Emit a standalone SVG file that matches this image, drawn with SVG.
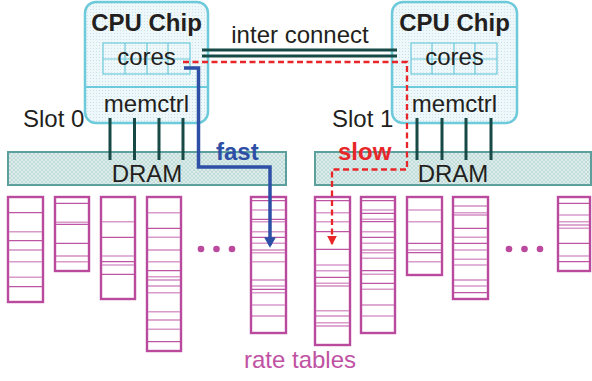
<svg xmlns="http://www.w3.org/2000/svg" width="592" height="381" viewBox="0 0 592 381">
<defs>
<pattern id="dots" width="3" height="3" patternUnits="userSpaceOnUse">
<rect width="3" height="3" fill="#eef7f9"/>
<rect width="1" height="1" fill="#c9e3ea"/>
</pattern>
<pattern id="hatch" width="4" height="4" patternUnits="userSpaceOnUse">
<rect width="4" height="4" fill="#dcecea"/>
<path d="M0 4L4 0M0 0L4 4" stroke="#b8d6d3" stroke-width="0.7"/>
</pattern>
<marker id="ab" markerWidth="4" markerHeight="4" refX="2.2" refY="2" orient="auto" markerUnits="strokeWidth"><path d="M0,0.3L3,2L0,3.7Z" fill="#2e4fa6"/></marker>
<marker id="ar" markerWidth="6" markerHeight="6" refX="3.5" refY="3" orient="auto" markerUnits="strokeWidth"><path d="M0,0.9L4,3L0,5.1Z" fill="#e8262a"/></marker>
</defs>
<style>
text{font-family:"Liberation Sans",Arial,sans-serif;font-size:24px;fill:#231f20}
.b{font-weight:bold}
.chip{fill:url(#dots);stroke:#6ccada;stroke-width:2.5}
.grid{fill:none;stroke:#6ccada;stroke-width:1.2}
.dram{fill:url(#hatch);stroke:#5c9f9c;stroke-width:2}
.bus{stroke:#174a46;stroke-width:3}
.tb{fill:#fff;stroke:#b94a9d;stroke-width:2.4}
.l1{stroke:#bd55a2;stroke-width:1.2}
.l2{stroke:#d99acb;stroke-width:1.6}
.dot{fill:#bb4a9e}
</style>
<g id="chip0">
<rect class="chip" x="85" y="2" width="123" height="121" rx="11"/>
<line x1="85" y1="87" x2="208" y2="87" stroke="#6ccada" stroke-width="2"/>
<rect class="grid" x="103" y="43" width="87" height="31"/>
<path class="grid" d="M103 59H190M125 43V74M147 43V74M168 43V74"/>
<text class="b" x="146.5" y="31" text-anchor="middle" font-size="23">CPU Chip</text>
<text x="146.5" y="65" text-anchor="middle">cores</text>
<text x="146.5" y="112" text-anchor="middle">memctrl</text>
</g>
<g id="chip1">
<rect class="chip" x="392" y="2" width="125" height="121" rx="11"/>
<line x1="392" y1="87" x2="517" y2="87" stroke="#6ccada" stroke-width="2"/>
<rect class="grid" x="411" y="43" width="86" height="31"/>
<path class="grid" d="M411 59H497M432 43V74M454 43V74M475 43V74"/>
<text class="b" x="454.5" y="31" text-anchor="middle" font-size="23">CPU Chip</text>
<text x="454.5" y="65" text-anchor="middle">cores</text>
<text x="454.5" y="112" text-anchor="middle">memctrl</text>
</g>
<g id="dram0">
<rect class="dram" x="8" y="152" width="278" height="33"/>
<text x="147" y="182" text-anchor="middle">DRAM</text>
</g>
<g id="dram1">
<rect class="dram" x="315" y="152" width="276" height="33"/>
<text x="453" y="182" text-anchor="middle">DRAM</text>
</g>
<g id="slots">
<text x="23" y="127">Slot 0</text>
<text x="332" y="127">Slot 1</text>
</g>
<g id="tables">
<rect class="tb" x="8" y="197" width="35" height="105"/>
<path class="l1" d="M9 212.7H42M9 240.7H42M9 250H42M9 286.7H42"/>
<path class="l2" d="M9 231.7H42M9 261.7H42M9 277.3H42"/>
<rect class="tb" x="55" y="197" width="34" height="74"/>
<path class="l1" d="M56 203.3H88M56 224.3H88M56 243.3H88M56 256H88"/>
<path class="l2" d="M56 222.3H88M56 261.7H88"/>
<rect class="tb" x="101" y="197" width="34" height="102"/>
<path class="l1" d="M102 237.3H134M102 261.7H134M102 274.3H134"/>
<path class="l2" d="M102 221.7H134M102 256H134M102 265H134"/>
<rect class="tb" x="147" y="197" width="34" height="154"/>
<path class="l1" d="M148 228.3H180M148 250H180M148 270.7H180M148 280H180M148 286H180M148 320H180M148 341.7H180"/>
<path class="l2" d="M148 212.7H180M148 237.3H180M148 261.7H180M148 276.7H180M148 292.7H180M148 311.7H180M148 329.3H180"/>
<rect class="tb" x="251" y="197" width="35" height="136"/>
<path class="l1" d="M252 200.7H285M252 219.3H285M252 237.3H285M252 250H285M252 280H285M252 289.3H285M252 316H285"/>
<path class="l2" d="M252 210H285M252 221.7H285M252 231.7H285M252 243.3H285M252 252.7H285M252 261.7H285M252 286H285M252 292.7H285M252 305H285"/>
<rect class="tb" x="315" y="197" width="35" height="148"/>
<path class="l1" d="M316 200.7H349M316 231.7H349M316 249.3H349M316 277.3H349M316 286H349M316 316H349M316 326H349"/>
<path class="l2" d="M316 212.7H349M316 221.7H349M316 265H349M316 270.7H349M316 283.3H349M316 310.7H349M316 322.7H349"/>
<rect class="tb" x="361" y="197" width="34" height="136"/>
<path class="l1" d="M362 200.7H394M362 213.3H394M362 221.7H394M362 237.3H394M362 250H394M362 270.7H394M362 283.3H394M362 305H394"/>
<path class="l2" d="M362 210H394M362 219.3H394M362 231.7H394M362 243.3H394M362 252.7H394M362 258.3H394M362 274.3H394M362 289.3H394M362 316H394"/>
<rect class="tb" x="407" y="197" width="35" height="78"/>
<path class="l1" d="M408 243.3H441M408 252.7H441"/>
<path class="l2" d="M408 210H441M408 221.7H441M408 250H441M408 261.7H441"/>
<rect class="tb" x="453" y="197" width="35" height="102"/>
<path class="l1" d="M454 206H487M454 215H487M454 228.3H487M454 243.3H487M454 280H487M454 292.7H487"/>
<path class="l2" d="M454 212.7H487M454 237.3H487M454 250H487M454 259.3H487M454 265H487M454 286H487"/>
<rect class="tb" x="558" y="197" width="32" height="74"/>
<path class="l1" d="M559 203.3H589M559 225H589M559 243.3H589M559 261.7H589"/>
<path class="l2" d="M559 215H589M559 221.7H589M559 228.3H589M559 256H589"/>
<circle class="dot" cx="201" cy="249" r="3.3"/>
<circle class="dot" cx="216.5" cy="249" r="3.3"/>
<circle class="dot" cx="232" cy="249" r="3.3"/>
<circle class="dot" cx="509" cy="249" r="3.3"/>
<circle class="dot" cx="524.5" cy="249" r="3.3"/>
<circle class="dot" cx="540" cy="249" r="3.3"/>
<text x="300" y="368" text-anchor="middle" font-size="26" style="fill:#c052a3">rate tables</text>
</g>
<g id="connectors">
<path class="bus" d="M202 50H397M202 56H397"/>
<text x="300" y="43" text-anchor="middle">inter connect</text>
<path class="bus" d="M110 118V160M134.5 118V160M159 118V160M183 118V160"/>
<path class="bus" d="M417 118V160M442 118V160M466 118V160M491 118V160"/>
<path d="M183 62H407V169.5H332V244" fill="none" stroke="#e8262a" stroke-width="2.3" stroke-dasharray="6,3.5" marker-end="url(#ar)"/>
<path d="M184 68H198.5V167H270V245" fill="none" stroke="#2e4fa6" stroke-width="3.5" stroke-linejoin="miter" marker-end="url(#ab)"/>
<text class="b" x="216" y="160" style="fill:#2e4fa6">fast</text>
<text class="b" x="338" y="160" style="fill:#e8262a">slow</text>
</g>
</svg>
